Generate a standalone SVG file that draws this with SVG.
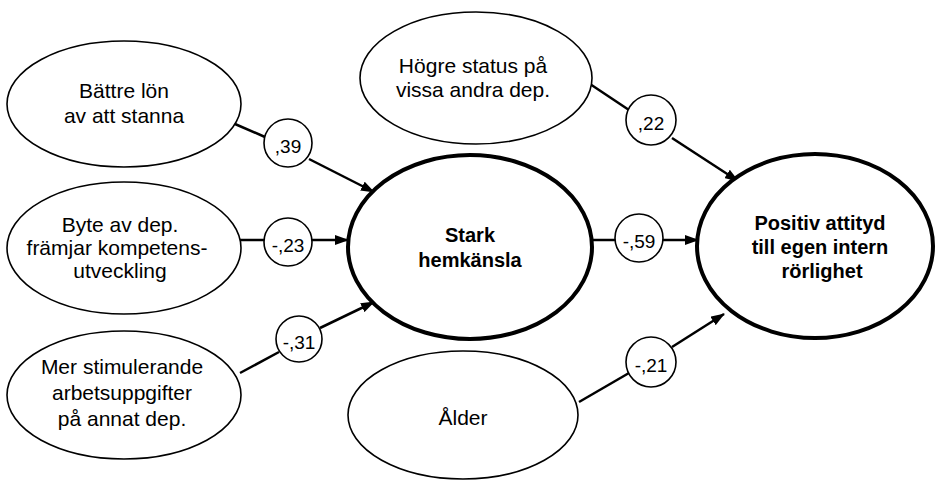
<svg xmlns="http://www.w3.org/2000/svg" width="936" height="481" viewBox="0 0 936 481">
<defs>
<marker id="ah" viewBox="0 0 14 10" refX="13" refY="5" markerWidth="14" markerHeight="10" markerUnits="userSpaceOnUse" orient="auto">
<path d="M0,0 L14,5 L0,10 Z" fill="#000"/>
</marker>
<style>
.e{fill:#fff;stroke:#000;stroke-width:1.6}
.E{fill:#fff;stroke:#000;stroke-width:4}
.c{fill:#fff;stroke:#000;stroke-width:1.6}
.t{font-family:"Liberation Sans",Arial,sans-serif;font-size:21px;text-anchor:middle;fill:#000}
.b{font-family:"Liberation Sans",Arial,sans-serif;font-size:20px;font-weight:bold;text-anchor:middle;fill:#000}
.n{font-family:"Liberation Sans",Arial,sans-serif;font-size:19px;text-anchor:middle;fill:#000}
.l{fill:none;stroke:#000;stroke-width:2.5}
.a{fill:none;stroke:#000;stroke-width:2.5;marker-end:url(#ah)}
</style>
</defs>
<rect width="936" height="481" fill="#fff"/>
<g id="connectors">
<line class="l" x1="235" y1="124" x2="265" y2="137"/>
<line class="a" x1="309" y1="159" x2="374" y2="192"/>
<line class="l" x1="240" y1="240" x2="264" y2="240"/>
<line class="a" x1="312" y1="240" x2="348" y2="240"/>
<line class="l" x1="240" y1="373" x2="279" y2="352"/>
<line class="a" x1="320" y1="328" x2="374" y2="302"/>
<line class="l" x1="590" y1="84" x2="629" y2="110"/>
<line class="a" x1="672" y1="138" x2="738" y2="181"/>
<line class="l" x1="593" y1="240" x2="615" y2="240"/>
<line class="a" x1="663" y1="240" x2="698" y2="240"/>
<line class="l" x1="579" y1="402" x2="629" y2="373"/>
<line class="a" x1="672" y1="347" x2="724" y2="314"/>
</g>
<g id="node-battre-lon">
<ellipse class="e" cx="124" cy="104" rx="117" ry="63"/>
<text class="t" x="124" y="98">Bättre lön</text>
<text class="t" x="124" y="123">av att stanna</text>
</g>
<g id="node-byte-av-dep">
<ellipse class="e" cx="124" cy="248" rx="117" ry="66"/>
<text class="t" x="120" y="232">Byte av dep.</text>
<text class="t" x="117" y="255">främjar kompetens-</text>
<text class="t" x="120" y="278">utveckling</text>
</g>
<g id="node-mer-stimulerande">
<ellipse class="e" cx="124" cy="395" rx="117" ry="64"/>
<text class="t" x="122" y="374">Mer stimulerande</text>
<text class="t" x="122" y="400">arbetsuppgifter</text>
<text class="t" x="122" y="426">på annat dep.</text>
</g>
<g id="node-hogre-status">
<ellipse class="e" cx="476" cy="78" rx="116" ry="66"/>
<text class="t" x="473" y="73">Högre status på</text>
<text class="t" x="473" y="97">vissa andra dep.</text>
</g>
<g id="node-stark-hemkansla">
<ellipse class="E" cx="470" cy="247" rx="122" ry="92"/>
<text class="b" x="470" y="242">Stark</text>
<text class="b" x="470" y="267">hemkänsla</text>
</g>
<g id="node-positiv-attityd">
<ellipse class="E" cx="815" cy="246" rx="118" ry="92"/>
<text class="b" x="820" y="230">Positiv attityd</text>
<text class="b" x="820" y="254">till egen intern</text>
<text class="b" x="822" y="278">rörlighet</text>
</g>
<g id="node-alder">
<ellipse class="e" cx="463" cy="415" rx="115" ry="64"/>
<text class="t" x="463" y="425">Ålder</text>
</g>
<g id="coef-39">
<circle class="c" cx="288" cy="143" r="24"/>
<text class="n" x="288" y="153">,39</text>
</g>
<g id="coef-23">
<circle class="c" cx="288" cy="242" r="24"/>
<text class="n" x="288" y="252">-,23</text>
</g>
<g id="coef-31">
<circle class="c" cx="299" cy="339" r="23"/>
<text class="n" x="299" y="349">-,31</text>
</g>
<g id="coef-22">
<circle class="c" cx="651" cy="120" r="25"/>
<text class="n" x="651" y="130">,22</text>
</g>
<g id="coef-59">
<circle class="c" cx="639" cy="238" r="24"/>
<text class="n" x="639" y="248">-,59</text>
</g>
<g id="coef-21">
<circle class="c" cx="651" cy="362" r="25"/>
<text class="n" x="651" y="372">-,21</text>
</g>
</svg>
